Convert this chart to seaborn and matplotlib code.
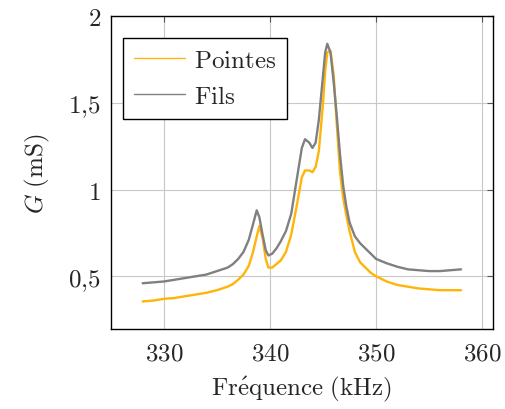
import matplotlib
matplotlib.use("Agg")
import matplotlib.pyplot as plt
import seaborn as sns
import pandas as pd

freq = [328, 329, 330, 331, 332, 333, 334, 335, 336, 336.5, 337, 337.5, 338, 338.4,
        338.75, 339.0, 339.3, 339.6, 339.85, 340.2, 340.6, 341, 341.5, 342, 342.5,
        343, 343.3, 343.7, 344.0, 344.3, 344.6, 345.0, 345.2, 345.4, 345.7, 346.0, 346.3,
        346.6, 346.9, 347.2, 347.5, 348, 348.5, 349, 349.5, 350, 351, 352, 353, 354,
        355, 356, 357, 358]

fils = [0.46, 0.465, 0.47, 0.48, 0.49, 0.50, 0.51, 0.53, 0.55, 0.57, 0.60, 0.64, 0.71,
        0.80, 0.88, 0.84, 0.74, 0.65, 0.62, 0.63, 0.66, 0.70, 0.76, 0.86, 1.05, 1.24,
        1.29, 1.27, 1.24, 1.27, 1.40, 1.66, 1.79, 1.84, 1.79, 1.62, 1.42, 1.20, 1.02, 0.90,
        0.81, 0.73, 0.69, 0.66, 0.63, 0.60, 0.575, 0.555, 0.54, 0.535, 0.53, 0.53,
        0.535, 0.54]

pointes = [0.355, 0.36, 0.37, 0.375, 0.385, 0.395, 0.405, 0.42, 0.44, 0.455, 0.48, 0.51,
           0.56, 0.64, 0.73, 0.79, 0.72, 0.60, 0.55, 0.55, 0.57, 0.59, 0.64, 0.74, 0.90,
           1.07, 1.11, 1.11, 1.10, 1.13, 1.22, 1.50, 1.68, 1.79, 1.80, 1.66, 1.37, 1.10, 0.95,
           0.85, 0.76, 0.64, 0.58, 0.55, 0.52, 0.50, 0.47, 0.45, 0.44, 0.43, 0.425, 0.42,
           0.42, 0.42]

series_names = ["Pointes", "Fils"]
xticks = [330, 340, 350, 360]
xticklabels = ["330", "340", "350", "360"]
yticks = [0.5, 1.0, 1.5, 2.0]
yticklabels = ["0,5", "1", "1,5", "2"]

df = pd.concat([
    pd.DataFrame({"freq": freq, "G": pointes, "serie": series_names[0]}),
    pd.DataFrame({"freq": freq, "G": fils, "serie": series_names[1]}),
])

sns.set_style("white")
plt.rcParams["mathtext.fontset"] = "cm"
plt.rcParams["font.family"] = ["DejaVu Serif"]

FS = 18

fig = plt.figure(figsize=(5.06, 4.10), dpi=100)
ax = fig.add_axes([0.219, 0.195, 0.755, 0.7635])

sns.lineplot(data=df, x="freq", y="G", hue="serie", hue_order=series_names,
             palette={"Pointes": "#FFB40A", "Fils": "#808080"},
             linewidth=1.7, ax=ax, sort=False, estimator=None)

ax.set_xlim(325, 361)
ax.set_ylim(0.196, 2.0)
ax.set_xticks(xticks)
ax.set_xticklabels(["$\\mathrm{%s}$" % t for t in xticklabels])
ax.set_yticks(yticks)
ax.set_yticklabels(["$\\mathrm{%s}$" % t.replace(",", "{,}") for t in yticklabels])
ax.grid(True, color="#c8c8c8", linewidth=0.8)
ax.set_axisbelow(True)
ax.tick_params(direction="in", length=4, width=0.8, color="#555555",
               top=True, right=True, labelsize=FS)
ax.tick_params(axis="x", pad=9)
ax.tick_params(axis="y", pad=7)
for s in ax.spines.values():
    s.set_color("black")
    s.set_linewidth(1.0)
    s.set_visible(True)

ax.set_xlabel(r"$\mathrm{Fr\acute{e}quence\ (kHz)}$", fontsize=FS, labelpad=7)
ax.set_ylabel(r"$G\ \mathrm{(mS)}$", fontsize=FS, labelpad=12)

handles, labels = ax.get_legend_handles_labels()
leg = ax.legend(handles, ["$\\mathrm{%s}$" % l for l in labels],
                loc="upper left", bbox_to_anchor=(0.031, 0.93), fontsize=FS,
                frameon=True, fancybox=False, edgecolor="black", framealpha=1,
                handlelength=2.05, borderpad=0.45, labelspacing=0.5, handletextpad=0.35,
                borderaxespad=0)
leg.get_frame().set_linewidth(1.0)
for h in leg.get_lines():
    h.set_linewidth(1.0)

fig.savefig("out.png", dpi=100)
